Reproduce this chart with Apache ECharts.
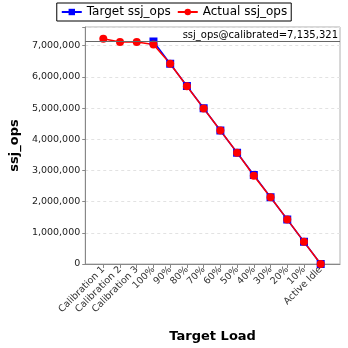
<!DOCTYPE html>
<html><head><meta charset="utf-8">
<script src="https://cdn.jsdelivr.net/npm/echarts@6/dist/echarts.min.js"></script>
<style>html,body{margin:0;padding:0;background:#fff}#c{width:348px;height:348px}</style>
</head><body><div id="c"></div>
<script>
var categories = ['Calibration 1','Calibration 2','Calibration 3','100%','90%','80%','70%','60%','50%','40%','30%','20%','10%','Active Idle'];
var targetValues = [null,null,null,7135321,6421789,5708257,4994725,4281193,3567661,2854128,2140596,1427064,713532,0];
var actualValues = [7220000,7120000,7120000,7040000,6420000,5700000,4990000,4280000,3570000,2830000,2140000,1430000,710000,0];
var calibrated = 7135321;
var yTicks = [0,1000000,2000000,3000000,4000000,5000000,6000000,7000000];
var yMax = 7600000;

var font = 'DejaVu Sans';
var chart = echarts.init(document.getElementById('c'));
chart.setOption({
  animation: false,
  legend: {
    top: 3, left: 'center',
    itemWidth: 20, itemHeight: 8, itemGap: 6,
    borderColor: '#000', borderWidth: 1, padding: [3, 4],
    textStyle: {fontFamily: font, fontSize: 12, color: '#000'},
    data: ['Target ssj_ops', 'Actual ssj_ops']
  },
  grid: [
    {left: 83, right: 8, top: 27, bottom: 84, show: true, borderColor: '#b0b0b0', borderWidth: 1},
    {left: 103.3, right: 27.3, top: 27, bottom: 84}
  ],
  xAxis: [
    {gridIndex: 0, type: 'category', data: categories, boundaryGap: false,
     axisLine: {lineStyle: {color: '#888'}}, axisTick: {show: false}, axisLabel: {show: false},
     splitLine: {show: false},
     name: 'Target Load', nameLocation: 'middle', nameGap: 66,
     nameTextStyle: {fontFamily: font, fontSize: 13, fontWeight: 'bold', color: '#000'}},
    {gridIndex: 1, type: 'category', data: categories, boundaryGap: false,
     axisLine: {show: false},
     axisTick: {show: true, length: 4, lineStyle: {color: '#888'}},
     axisLabel: {rotate: 45, fontFamily: font, fontSize: 9.5, color: '#333', margin: 4, interval: 0},
     splitLine: {show: false}}
  ],
  yAxis: [
    {gridIndex: 0, type: 'value', min: 0, max: yMax, interval: 1000000,
     axisLine: {show: true, lineStyle: {color: '#888'}},
     axisTick: {show: true, length: 3, lineStyle: {color: '#888'}},
     axisLabel: {fontFamily: font, fontSize: 9.5, color: '#222', margin: 5,
       formatter: function(v){ return yTicks.indexOf(v) >= 0 ? v.toLocaleString('en-US') : ''; }},
     splitLine: {show: true, lineStyle: {color: '#e2e2e2', type: [3, 3]}},
     name: 'ssj_ops', nameLocation: 'middle', nameGap: 58,
     nameTextStyle: {fontFamily: font, fontSize: 13, fontWeight: 'bold', color: '#000'}},
    {gridIndex: 1, type: 'value', min: 0, max: yMax, interval: 1000000, show: false}
  ],
  series: [
    {type: 'line', xAxisIndex: 0, yAxisIndex: 0, data: [], silent: true,
     markLine: {symbol: 'none', silent: true, animation: false,
       lineStyle: {color: '#666', type: 'solid', width: 1.2},
       label: {position: 'insideEndTop', formatter: 'ssj_ops@calibrated=7,135,321',
         fontFamily: font, fontSize: 10, color: '#000', distance: [2, 1]},
       data: [{yAxis: calibrated}]}},
    {name: 'Target ssj_ops', type: 'line', xAxisIndex: 1, yAxisIndex: 1, data: targetValues,
     symbol: 'rect', symbolSize: 8, itemStyle: {color: '#0000ff'},
     lineStyle: {color: '#0000ff', width: 1.5}, connectNulls: false},
    {name: 'Actual ssj_ops', type: 'line', xAxisIndex: 1, yAxisIndex: 1, data: actualValues,
     symbol: 'circle', symbolSize: 8, itemStyle: {color: '#ff0000'},
     lineStyle: {color: '#ff0000', width: 1.5}}
  ]
});
</script></body></html>
